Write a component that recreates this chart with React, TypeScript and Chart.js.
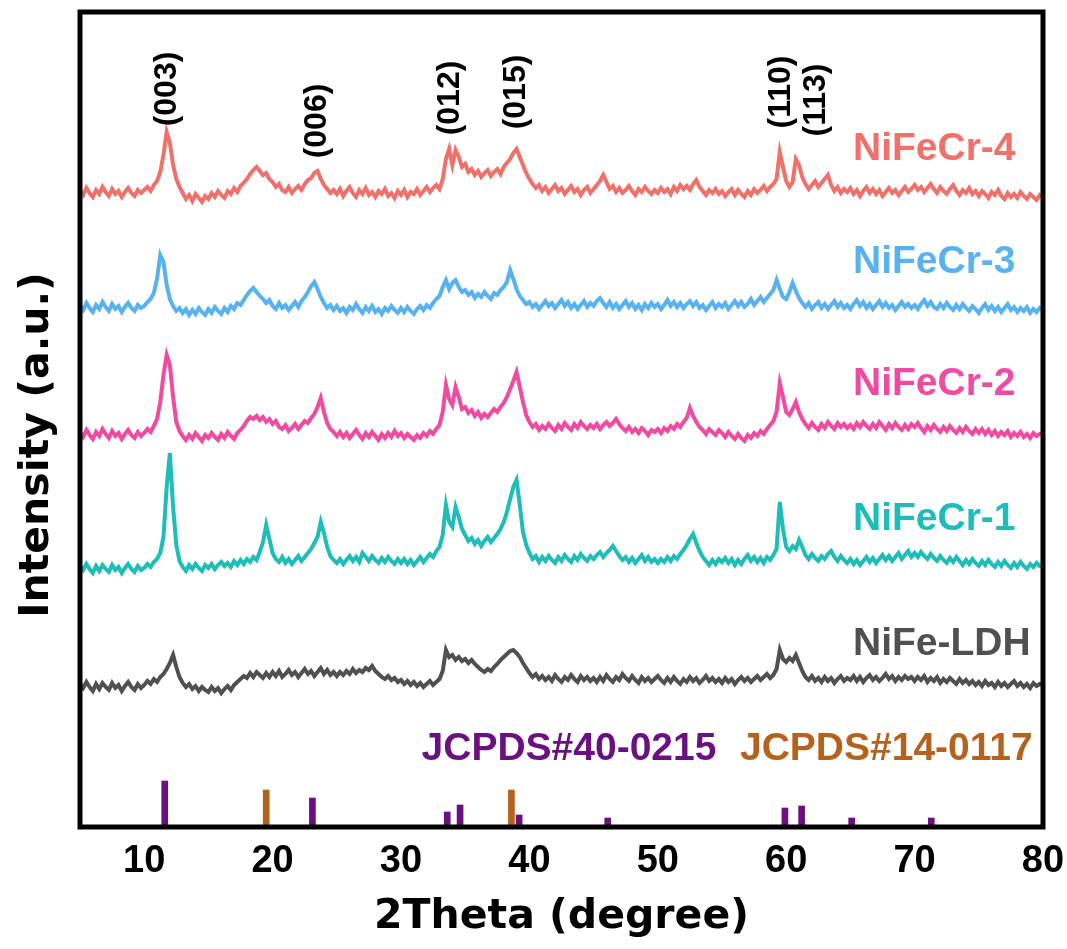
import React, { useEffect, useRef } from "react";
import { Chart, registerables } from "chart.js";
Chart.register(...registerables);

// 2θ grid (degrees), 0.25° step
const twoTheta = [
  5, 5.25, 5.5, 5.75, 6, 6.25, 6.5, 6.75, 7, 7.25, 7.5, 7.75, 8, 8.25, 8.5, 8.75, 9, 9.25, 9.5, 9.75,
  10, 10.25, 10.5, 10.75, 11, 11.25, 11.5, 11.75, 12, 12.25, 12.5, 12.75, 13, 13.25, 13.5, 13.75, 14, 14.25, 14.5, 14.75,
  15, 15.25, 15.5, 15.75, 16, 16.25, 16.5, 16.75, 17, 17.25, 17.5, 17.75, 18, 18.25, 18.5, 18.75, 19, 19.25, 19.5, 19.75,
  20, 20.25, 20.5, 20.75, 21, 21.25, 21.5, 21.75, 22, 22.25, 22.5, 22.75, 23, 23.25, 23.5, 23.75, 24, 24.25, 24.5, 24.75,
  25, 25.25, 25.5, 25.75, 26, 26.25, 26.5, 26.75, 27, 27.25, 27.5, 27.75, 28, 28.25, 28.5, 28.75, 29, 29.25, 29.5, 29.75,
  30, 30.25, 30.5, 30.75, 31, 31.25, 31.5, 31.75, 32, 32.25, 32.5, 32.75, 33, 33.25, 33.5, 33.75, 34, 34.25, 34.5, 34.75,
  35, 35.25, 35.5, 35.75, 36, 36.25, 36.5, 36.75, 37, 37.25, 37.5, 37.75, 38, 38.25, 38.5, 38.75, 39, 39.25, 39.5, 39.75,
  40, 40.25, 40.5, 40.75, 41, 41.25, 41.5, 41.75, 42, 42.25, 42.5, 42.75, 43, 43.25, 43.5, 43.75, 44, 44.25, 44.5, 44.75,
  45, 45.25, 45.5, 45.75, 46, 46.25, 46.5, 46.75, 47, 47.25, 47.5, 47.75, 48, 48.25, 48.5, 48.75, 49, 49.25, 49.5, 49.75,
  50, 50.25, 50.5, 50.75, 51, 51.25, 51.5, 51.75, 52, 52.25, 52.5, 52.75, 53, 53.25, 53.5, 53.75, 54, 54.25, 54.5, 54.75,
  55, 55.25, 55.5, 55.75, 56, 56.25, 56.5, 56.75, 57, 57.25, 57.5, 57.75, 58, 58.25, 58.5, 58.75, 59, 59.25, 59.5, 59.75,
  60, 60.25, 60.5, 60.75, 61, 61.25, 61.5, 61.75, 62, 62.25, 62.5, 62.75, 63, 63.25, 63.5, 63.75, 64, 64.25, 64.5, 64.75,
  65, 65.25, 65.5, 65.75, 66, 66.25, 66.5, 66.75, 67, 67.25, 67.5, 67.75, 68, 68.25, 68.5, 68.75, 69, 69.25, 69.5, 69.75,
  70, 70.25, 70.5, 70.75, 71, 71.25, 71.5, 71.75, 72, 72.25, 72.5, 72.75, 73, 73.25, 73.5, 73.75, 74, 74.25, 74.5, 74.75,
  75, 75.25, 75.5, 75.75, 76, 76.25, 76.5, 76.75, 77, 77.25, 77.5, 77.75, 78, 78.25, 78.5, 78.75, 79, 79.25, 79.5, 79.75,
  80,
];

// Intensities (offset, arbitrary units)
const nifecr4 = [
  636, 632, 639, 634, 630, 637, 633, 640, 635, 631, 638, 633, 636, 630, 635, 639, 634, 631, 637, 634,
  637, 640, 636, 642, 646, 655, 672, 695, 684, 662, 648, 640, 634, 628, 632, 626, 633, 629, 625, 631,
  628, 634, 630, 636, 632, 629, 636, 633, 639, 635, 641, 644, 648, 653, 657, 660, 656, 652, 654, 648,
  645, 640, 643, 637, 635, 640, 634, 638, 641, 637, 643, 647, 649, 654, 656, 648, 642, 638, 634, 637,
  633, 638, 631, 636, 640, 634, 630, 637, 633, 639, 632, 635, 630, 636, 633, 638, 631, 634, 629, 636,
  632, 637, 630, 635, 633, 638, 632, 636, 640, 635, 639, 642, 638, 648, 668, 678, 662, 677, 670, 660,
  663, 655, 658, 652, 656, 650, 654, 657, 651, 655, 658, 653, 660, 664, 668, 674, 678, 670, 662, 654,
  648, 643, 639, 642, 636, 640, 634, 638, 642, 636, 639, 633, 637, 641, 635, 638, 632, 637, 640, 634,
  638, 642, 646, 652, 645, 638, 641, 635, 639, 634, 637, 641, 636, 632, 638, 635, 640, 636, 633, 637,
  634, 639, 635, 638, 633, 640, 636, 642, 638, 641, 637, 643, 647, 640, 636, 632, 637, 634, 638, 633,
  636, 631, 635, 638, 632, 637, 633, 630, 636, 632, 638, 634, 637, 641, 636, 640, 643, 648, 675, 660,
  646, 640, 645, 668, 662, 650, 643, 638, 642, 646, 640, 644, 648, 652, 642, 636, 640, 634, 638, 635,
  639, 633, 637, 631, 636, 640, 634, 638, 633, 637, 631, 635, 639, 634, 637, 632, 636, 640, 635, 638,
  642, 637, 640, 635, 639, 643, 638, 634, 640, 636, 633, 638, 642, 636, 632, 637, 634, 639, 633, 636,
  631, 636, 633, 629, 635, 632, 637, 631, 628, 634, 630, 633, 629, 635, 631, 628, 633, 630, 627, 632,
  630,
];

const nifecr3 = [
  521, 517, 524, 519, 515, 522, 518, 525, 520, 516, 523, 518, 521, 515, 520, 524, 519, 516, 522, 519,
  521, 525, 528, 534, 548, 572, 565, 542, 528, 521, 516, 519, 514, 518, 512, 517, 513, 519, 515, 512,
  518, 514, 520, 516, 513, 519, 515, 521, 518, 524, 522, 527, 532, 536, 539, 535, 531, 528, 524, 527,
  521, 518, 524, 519, 522, 517, 521, 525, 520, 526, 530, 535, 541, 545, 538, 530, 524, 519, 522, 517,
  521, 516, 519, 514, 520, 517, 523, 518, 514, 520, 516, 521, 515, 518, 513, 519, 516, 521, 517, 514,
  519, 515, 520, 516, 513, 518, 521, 517, 522, 519, 524, 528, 531, 540, 547, 538, 544, 547, 540, 535,
  537, 532, 535, 529, 533, 530, 535, 531, 528, 534, 532, 537, 540, 545, 557, 548, 538, 531, 527, 523,
  525, 520, 523, 518, 522, 526, 521, 524, 519, 523, 527, 521, 525, 519, 523, 518, 522, 526, 520, 524,
  521, 526, 529, 524, 520, 525, 519, 523, 518, 522, 526, 520, 524, 518, 522, 517, 523, 519, 524, 520,
  523, 518, 522, 527, 521, 525, 520, 524, 519, 523, 526, 521, 525, 519, 522, 517, 521, 525, 519, 523,
  520, 524, 518, 522, 526, 521, 525, 520, 523, 528, 522, 526, 530, 525, 529, 533, 537, 547, 538, 530,
  528, 535, 544, 536, 529, 524, 520, 524, 518, 522, 525, 519, 523, 518, 522, 526, 520, 524, 519, 522,
  518, 523, 527, 521, 525, 519, 523, 518, 522, 526, 520, 524, 519, 522, 517, 521, 525, 520, 523, 519,
  522, 518, 523, 527, 521, 525, 520, 518, 523, 519, 524, 520, 517, 522, 518, 523, 519, 516, 521, 518,
  514, 519, 523, 517, 521, 516, 520, 515, 519, 523, 517, 520, 515, 519, 516, 520, 514, 518, 515, 519,
  517,
];

const nifecr2 = [
  394, 390, 397, 392, 388, 395, 391, 398, 393, 389, 396, 391, 394, 388, 393, 397, 392, 389, 395, 391,
  394, 398, 395, 401, 408, 425, 452, 472, 462, 430, 405, 396, 391, 387, 392, 388, 394, 390, 386, 392,
  389, 394, 390, 387, 393, 389, 395, 391, 388, 394, 397, 401, 406, 410, 408, 411, 407, 410, 405, 408,
  403, 406, 400, 398, 402, 396, 399, 403, 398, 402, 406, 404, 409, 413, 420, 429, 415, 404, 398, 395,
  391, 395, 390, 394, 389, 393, 397, 392, 388, 394, 390, 395, 391, 387, 393, 389, 394, 390, 396, 391,
  394, 389, 393, 390, 387, 392, 389, 394, 391, 396, 393, 398, 402, 415, 442, 428, 422, 440, 430, 418,
  420, 414, 417, 411, 415, 409, 413, 410, 414, 418, 415, 420, 424, 430, 438, 446, 455, 440, 425, 412,
  405, 400, 403, 397, 401, 398, 403, 399, 396, 402, 398, 404, 400, 397, 403, 399, 405, 401, 398, 402,
  399, 403, 398, 402, 405, 401, 404, 408, 403, 399, 396, 400, 395, 398, 394, 399, 396, 392, 397, 395,
  398, 394, 399, 396, 401, 398, 403, 400, 405, 409, 419, 411, 405, 400, 397, 393, 398, 395, 392, 397,
  394, 390, 395, 391, 388, 393, 389, 386, 392, 389, 394, 391, 396, 393, 398, 402, 406, 415, 444, 430,
  415, 412, 418, 425, 415, 408, 403, 399, 404, 400, 397, 403, 399, 405, 401, 398, 404, 400, 403, 399,
  402, 398, 404, 400, 405, 401, 398, 403, 399, 405, 401, 397, 403, 399, 404, 400, 397, 402, 398, 403,
  400, 404, 399, 395, 401, 397, 402, 398, 395, 400, 396, 401, 397, 394, 399, 395, 400, 396, 393, 398,
  394, 398, 393, 397, 392, 396, 391, 395, 392, 396, 390, 394, 391, 395, 390, 393, 389, 394, 391, 393,
  394,
];

const nifecr1 = [
  261, 257, 263, 258, 254, 261, 256, 262, 258, 255, 262, 257, 260, 254, 259, 263, 258, 255, 261, 257,
  259, 263, 260, 265, 268, 274, 290, 340, 374, 320, 282, 266, 260, 256, 262, 258, 263, 259, 256, 262,
  259, 263, 258, 262, 265, 261, 264, 260, 266, 262, 267, 263, 268, 265, 270, 267, 275, 285, 302, 288,
  274, 268, 265, 270, 264, 268, 263, 267, 271, 266, 270, 274, 278, 284, 290, 305, 294, 280, 271, 267,
  264, 268, 263, 267, 271, 266, 270, 265, 274, 270, 266, 271, 267, 264, 269, 265, 270, 266, 263, 268,
  264, 268, 263, 267, 262, 266, 270, 265, 269, 273, 270, 276, 280, 292, 322, 305, 300, 320, 310, 298,
  292, 286, 289, 283, 287, 281, 286, 290, 285, 289, 293, 298, 305, 315, 328, 340, 347, 322, 295, 282,
  274, 268, 271, 265, 270, 266, 271, 267, 264, 270, 266, 272, 268, 265, 271, 267, 273, 269, 266, 271,
  268, 272, 275, 270, 274, 277, 281, 276, 271, 267, 270, 265, 269, 264, 268, 272, 266, 270, 265, 268,
  264, 268, 265, 270, 266, 271, 268, 273, 277, 282, 288, 293, 284, 276, 270, 266, 262, 267, 263, 268,
  265, 269, 264, 268, 262, 267, 263, 268, 272, 266, 270, 265, 269, 264, 270, 267, 272, 278, 325, 298,
  280, 276, 281, 278, 287, 280, 272, 268, 273, 269, 266, 271, 268, 273, 276, 270, 266, 271, 267, 264,
  268, 263, 267, 262, 266, 270, 265, 269, 264, 268, 272, 267, 271, 266, 270, 274, 268, 272, 276, 270,
  274, 270, 275, 271, 268, 273, 269, 266, 271, 267, 264, 269, 265, 270, 266, 262, 267, 263, 268, 264,
  261, 266, 262, 267, 263, 260, 265, 261, 266, 262, 259, 264, 260, 265, 261, 258, 263, 260, 264, 261,
  262,
];

const nifeLdh = [
  143, 139, 145, 140, 136, 143, 138, 144, 140, 137, 144, 139, 142, 136, 141, 145, 140, 137, 143, 139,
  142, 146, 143, 148, 145, 150, 153, 158, 164, 172, 160, 150, 144, 140, 143, 138, 141, 136, 140, 137,
  135, 140, 136, 139, 134, 138, 141, 137, 142, 145, 148, 151, 149, 154, 150, 155, 152, 149, 154, 150,
  155, 151, 156, 150, 153, 157, 152, 155, 150, 154, 158, 153, 156, 151, 155, 159, 153, 157, 152, 155,
  151, 155, 152, 156, 153, 158, 154, 157, 155, 159, 157, 161, 156, 153, 150, 148, 151, 147, 149, 145,
  147, 143, 146, 142, 145, 141, 144, 140, 143, 146, 142, 145, 148, 156, 177, 170, 172, 167, 170, 166,
  168, 164, 167, 163, 160, 157, 155, 158, 156, 160, 163, 167, 170, 173, 176, 177, 174, 170, 164, 159,
  154, 150, 153, 148, 151, 147, 150, 146, 152, 148, 145, 150, 147, 152, 148, 145, 151, 147, 150, 146,
  149, 145, 150, 146, 152, 148, 145, 150, 147, 153, 149, 146, 151, 147, 144, 150, 146, 149, 145, 148,
  151, 147, 144, 149, 145, 150, 146, 143, 148, 145, 150, 146, 149, 144, 147, 151, 146, 149, 145, 148,
  144, 149, 145, 148, 143, 147, 150, 146, 149, 145, 148, 151, 147, 150, 153, 149, 152, 158, 177, 168,
  165, 169, 166, 172, 164, 156, 150, 147, 151, 146, 149, 145, 150, 146, 149, 144, 148, 151, 146, 149,
  147, 151, 146, 150, 145, 149, 152, 147, 150, 146, 149, 153, 148, 151, 146, 150, 147, 151, 148, 150,
  146, 150, 147, 151, 145, 149, 146, 150, 144, 148, 145, 149, 146, 143, 148, 144, 147, 143, 146, 142,
  145, 141, 146, 142, 144, 140, 145, 141, 144, 140, 143, 146, 141, 144, 140, 143, 139, 144, 141, 143,
  142,
];

// Reference patterns (stick positions & relative heights)
const jcpds400215Theta = [11.6, 23.1, 33.6, 34.6, 39.2, 46.1, 59.9, 61.2, 65.1, 71.3];
const jcpds400215Height = [46, 29, 15, 22, 12, 9, 19, 21, 9, 9];
const jcpds140117Theta = [19.5, 38.6];
const jcpds140117Height = [37, 37];

const xTicks = [10, 20, 30, 40, 50, 60, 70, 80];

const seriesNames = ["NiFeCr-4", "NiFeCr-3", "NiFeCr-2", "NiFeCr-1", "NiFe-LDH"];
const seriesColors = ["#F0706A", "#58B2F0", "#F04BA0", "#1EBDB8", "#505050"];
const seriesLabelTheta = [65.2, 65.2, 65.2, 65.2, 65.2];
const seriesLabelLevel = [667, 554, 432, 297, 172];

const hklTexts = ["(003)", "(006)", "(012)", "(015)", "(110)", "(113)"];
const hklTheta = [11.8, 23.5, 33.8, 39.0, 59.6, 62.3];
const hklLevel = [738, 706, 729, 735, 735, 727];

const refNames = ["JCPDS#40-0215", "JCPDS#14-0117"];
const refColors = ["#6B1080", "#B5631C"];
const refLabelTheta = [31.6, 56.4];
const refLabelLevel = [67, 67];

const overlayPlugin = {
  id: "overlay",
  afterDraw(chart: any) {
    const { ctx, chartArea: a, scales } = chart;
    const xs = scales.x;
    const ys = scales.y;
    ctx.save();
    // frame
    ctx.strokeStyle = "#000";
    ctx.lineWidth = 5;
    ctx.strokeRect(a.left, a.top, a.right - a.left, a.bottom - a.top);

    // sample labels
    ctx.font = "bold 39px 'Liberation Sans', Arial, sans-serif";
    ctx.textAlign = "left";
    ctx.textBaseline = "alphabetic";
    seriesNames.forEach((n, i) => {
      ctx.fillStyle = seriesColors[i];
      ctx.fillText(n, xs.getPixelForValue(seriesLabelTheta[i]), ys.getPixelForValue(seriesLabelLevel[i]));
    });
    refNames.forEach((n, i) => {
      ctx.fillStyle = refColors[i];
      ctx.fillText(n, xs.getPixelForValue(refLabelTheta[i]), ys.getPixelForValue(refLabelLevel[i]));
    });

    // hkl labels
    ctx.fillStyle = "#000";
    ctx.font = "bold 32px 'Liberation Sans', Arial, sans-serif";
    hklTexts.forEach((t, i) => {
      ctx.save();
      ctx.translate(xs.getPixelForValue(hklTheta[i]), ys.getPixelForValue(hklLevel[i]));
      ctx.rotate(-Math.PI / 2);
      ctx.textAlign = "center";
      ctx.textBaseline = "middle";
      ctx.fillText(t, 0, 0);
      ctx.restore();
    });

    // axis titles
    ctx.font = "bold 41px 'DejaVu Sans', sans-serif";
    ctx.textAlign = "center";
    ctx.textBaseline = "alphabetic";
    ctx.fillText("2Theta (degree)", (a.left + a.right) / 2, 928);
    ctx.save();
    ctx.translate(48, 445);
    ctx.rotate(-Math.PI / 2);
    ctx.fillText("Intensity (a.u.)", 0, 0);
    ctx.restore();

    ctx.restore();
  },
};

export default function App() {
  const ref = useRef<HTMLCanvasElement | null>(null);
  useEffect(() => {
    if (!ref.current) return;
    const lines = [nifecr4, nifecr3, nifecr2, nifecr1, nifeLdh].map((arr, k) => ({
      type: "line" as const,
      label: seriesNames[k],
      data: twoTheta.map((t, i) => ({ x: t, y: arr[i] })),
      borderColor: seriesColors[k],
      backgroundColor: seriesColors[k],
      borderWidth: 4,
      pointRadius: 0,
      tension: 0,
      fill: false,
    }));
    const bars = [
      {
        type: "bar" as const,
        label: refNames[0],
        data: jcpds400215Theta.map((t, i) => ({ x: t, y: jcpds400215Height[i] })),
        backgroundColor: refColors[0],
        barThickness: 6,
        grouped: false,
      },
      {
        type: "bar" as const,
        label: refNames[1],
        data: jcpds140117Theta.map((t, i) => ({ x: t, y: jcpds140117Height[i] })),
        backgroundColor: refColors[1],
        barThickness: 6,
        grouped: false,
      },
    ];
    const chart = new Chart(ref.current, {
      type: "line",
      data: { datasets: [...lines, ...bars] as any },
      options: {
        animation: false,
        responsive: false,
        layout: { padding: { left: 80, right: 24, top: 12, bottom: 0 } },
        plugins: { legend: { display: false }, tooltip: { enabled: false } },
        scales: {
          x: {
            type: "linear",
            min: 5,
            max: 80,
            offset: false,
            grid: { display: false, drawTicks: false, offset: false },
            border: { display: false },
            afterBuildTicks: (scale: any) => {
              scale.ticks = xTicks.map((v) => ({ value: v }));
            },
            afterFit: (scale: any) => {
              scale.height = 122;
              scale.paddingLeft = 0;
              scale.paddingRight = 0;
            },
            ticks: {
              color: "#000",
              padding: 12,
              maxRotation: 0,
              autoSkip: false,
              font: { family: "'Liberation Sans', Arial, sans-serif", size: 38, weight: "bold" },
            },
          },
          y: {
            type: "linear",
            display: false,
            min: 0,
            max: 815,
          },
        },
      } as any,
      plugins: [overlayPlugin],
    });
    return () => chart.destroy();
  }, []);
  return (
    <div style={{ position: "absolute", left: 0, top: 0, width: 1067, height: 949, background: "#fff" }}>
      <canvas ref={ref} width={1067} height={949} />
    </div>
  );
}
